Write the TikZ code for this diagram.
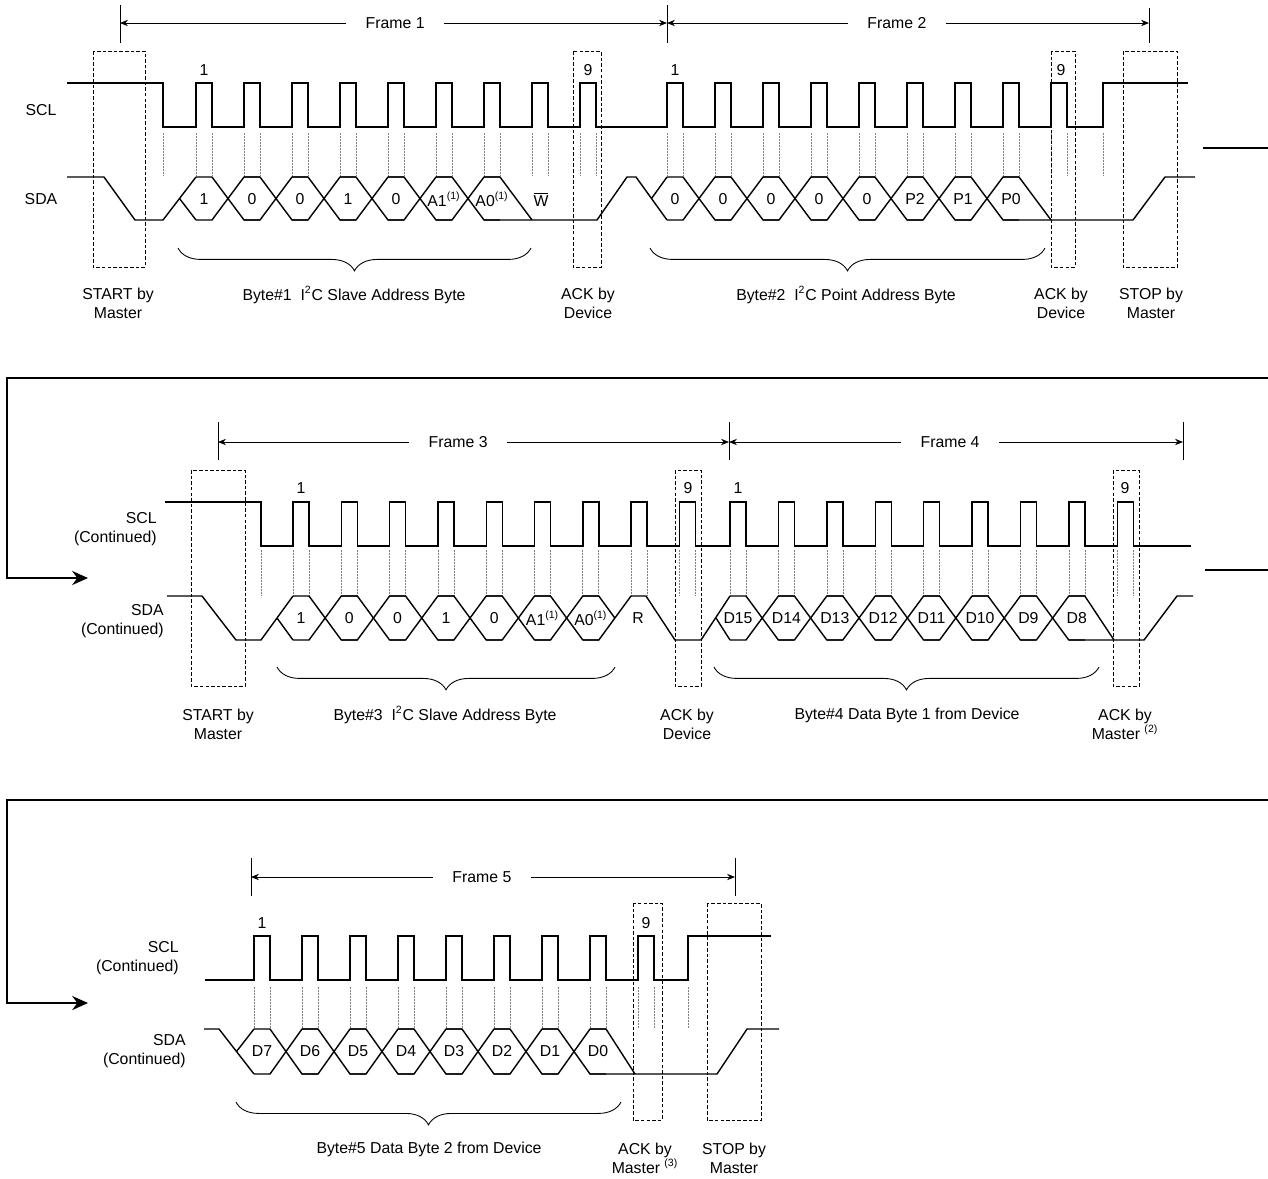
\documentclass[tikz,border=0pt]{standalone}
\usepackage{fontspec}
\setmainfont{Liberation Sans}
\usetikzlibrary{arrows.meta,decorations.pathreplacing}
\tikzstyle{sig} = [line width=0.8pt, line join=miter]
\tikzstyle{guide} = [gray, dash pattern=on 1pt off 0.7pt, line width=0.35pt]
\tikzstyle{window} = [draw, dash pattern=on 2pt off 1.2pt, line width=0.45pt]
\tikzstyle{lbl} = [font=\fontsize{9}{10.8}\selectfont, align=center, inner sep=0pt]
\tikzstyle{framelbl} = [lbl, fill=white, inner xsep=11pt, inner ysep=2pt]
\tikzstyle{grp} = [decorate, decoration={brace, mirror, amplitude=13pt}, line width=0.5pt]
\tikzstyle{link} = [line width=1.2pt]

\begin{document}
\begin{tikzpicture}[x=0.02cm, y=-0.02cm, >={Stealth[length=4.5pt,width=3.6pt]}]
    \useasboundingbox (0,0) rectangle (1268,1178);

    % 第一行: Frame 1, Frame 2
    \node[lbl] (scl1) at (41,110) {SCL};
    \node[lbl] (sda1) at (41,199) {SDA};
    \coordinate (f1a) at (120,23);
    \coordinate (f1b) at (667,23);
    \coordinate (f2b) at (1149,23);
    \draw[line width=0.5pt] (120,5) -- (120,43) (667,5) -- (667,43) (1149,8) -- (1149,43);
    \draw[<->, line width=0.5pt] (f1a) -- node[framelbl, pos=0.503] (fr1) {Frame 1} (f1b);
    \draw[<->, line width=0.5pt] (f1b) -- node[framelbl, pos=0.477] (fr2) {Frame 2} (f2b);

    \draw[sig] (67,83) -- (163,83) -- (163,127)
        foreach \x in {196,244,...,580} { -- (\x,127) -- ++(0,-44) -- ++(16,0) -- ++(0,44) }
        foreach \x in {667,715,...,1051} { -- (\x,127) -- ++(0,-44) -- ++(16,0) -- ++(0,44) }
        -- (1103,127) -- (1103,83) -- (1188,83);
    \foreach \x in {196,244,...,580} \draw[guide] (\x,133) -- (\x,175) ({\x+16},133) -- ({\x+16},175);
    \foreach \x in {667,715,...,1051} \draw[guide] (\x,133) -- (\x,175) ({\x+16},133) -- ({\x+16},175);
    \draw[guide] (163,133) -- (163,175) (1103,133) -- (1103,175);

    \draw[sig] (67,177) -- (104,177) -- (135,220) -- (163,220) -- (196,177);
    \draw[sig] (179.5,198.5) -- (196,220);
    \foreach \x in {196,244,...,436} {
        \draw[sig] (\x,177) -- ++(16,0) -- ++(32,43) -- ++(16,0);
        \draw[sig] (\x,220) -- ++(16,0) -- ++(32,-43) -- ++(16,0);
    }
    \draw[sig] (484,177) -- (500,177) -- (532,220);
    \draw[sig] (484,220) -- (597,220) -- (627,177) -- (636,177) -- (667,220);
    \draw[sig] (651.5,198.5) -- (667,177);
    \foreach \x in {667,715,...,955} {
        \draw[sig] (\x,177) -- ++(16,0) -- ++(32,43) -- ++(16,0);
        \draw[sig] (\x,220) -- ++(16,0) -- ++(32,-43) -- ++(16,0);
    }
    \draw[sig] (1003,177) -- (1019,177) -- (1051,220);
    \draw[sig] (1003,220) -- (1133,220) -- (1165,177) -- (1195,177);

    \foreach \t [count=\i from 0] in {1,0,0,1,0,A1\textsuperscript{(1)},A0\textsuperscript{(1)}}
        \node[lbl] (a\i) at ({204+48*\i},199) {\t};
    \node[lbl] (wr) at (541,199) {$\overline{\mbox{W}}$};
    \foreach \t [count=\i from 0] in {0,0,0,0,0,P2,P1,P0}
        \node[lbl] (p\i) at ({675+48*\i},199) {\t};
    \node[lbl] (c11) at (204,70) {1};
    \node[lbl] (c19) at (588,70) {9};
    \node[lbl] (c21) at (675,70) {1};
    \node[lbl] (c29) at (1061,70) {9};

    \draw[window] (93,51) rectangle (145,267);
    \draw[window] (573,51) rectangle (601,267);
    \draw[window] (1051,51) rectangle (1075,267);
    \draw[window] (1123,51) rectangle (1177,267);
    \draw[grp] (178,248) -- (531,248);
    \draw[grp] (650,248) -- (1045,248);
    \node[lbl] (st1) at (118,303) {START by\\Master};
    \node[lbl] (by1) at (354,295) {Byte\#1\ \ I\textsuperscript{2}C Slave Address Byte};
    \node[lbl] (ack1) at (588,303) {ACK by\\Device};
    \node[lbl] (by2) at (846,295) {Byte\#2\ \ I\textsuperscript{2}C Point Address Byte};
    \node[lbl] (ack2) at (1061,303) {ACK by\\Device};
    \node[lbl] (sp1) at (1151,303) {STOP by\\Master};

    % 转行连线 1
    \coordinate (outA) at (1203,148);
    \coordinate (edgeA) at (1268,148);
    \coordinate (inA) at (1268,378);
    \coordinate (arrA) at (88,578);
    \draw[link] (outA) -- (edgeA);
    \draw[link, -{Stealth[length=9pt,width=8pt]}] (inA) -| (7,578) -- (arrA);

    % 第二行: Frame 3, Frame 4
    \node[lbl, align=right, anchor=east] (scl2) at (157,529) {SCL\\(Continued)};
    \node[lbl, align=right, anchor=east] (sda2) at (164,621) {SDA\\(Continued)};
    \coordinate (f3a) at (218,442);
    \coordinate (f3b) at (729,442);
    \coordinate (f4b) at (1183,442);
    \draw[line width=0.5pt] (218,422) -- (218,460) (729,422) -- (729,460) (1183,422) -- (1183,460);
    \draw[<->, line width=0.5pt] (f3a) -- node[framelbl, pos=0.47] (fr3) {Frame 3} (f3b);
    \draw[<->, line width=0.5pt] (f3b) -- node[framelbl, pos=0.487] (fr4) {Frame 4} (f4b);

    \draw[sig] (165,502) -- (261,502) -- (261,546)
        foreach \k in {0,...,8} { -- ({293+48.3*\k},546) -- ++(0,-44) -- ++(16,0) -- ++(0,44) }
        foreach \k in {0,...,8} { -- ({730+48.4*\k},546) -- ++(0,-44) -- ++(16,0) -- ++(0,44) }
        -- (1191,546);
    \foreach \k in {0,...,8} \draw[guide] ({293+48.3*\k},550) -- ++(0,45) ({309+48.3*\k},550) -- ++(0,45);
    \foreach \k in {0,...,8} \draw[guide] ({730+48.4*\k},550) -- ++(0,45) ({746+48.4*\k},550) -- ++(0,45);
    \draw[guide] (261,550) -- (261,595);

    \draw[sig] (167,596) -- (202,596) -- (236,640) -- (261,640) -- (293,596);
    \draw[sig] (277,618) -- (293,640);
    \foreach \k in {0,...,5} {
        \draw[sig] ({293+48.3*\k},596) -- ++(16,0) -- ++(32.3,44) -- ++(16,0);
        \draw[sig] ({293+48.3*\k},640) -- ++(16,0) -- ++(32.3,-44) -- ++(16,0);
    }
    \draw[sig] (582.8,596) -- ++(16,0) -- ++(16,22);
    \draw[sig] (582.8,640) -- ++(16,0) -- (631,596) -- (646,596) -- (675,640) -- (701,640) -- (730,596);
    \draw[sig] (716,618) -- (730,640);
    \foreach \k in {0,...,6} {
        \draw[sig] ({730+48.4*\k},596) -- ++(16,0) -- ++(32.4,44) -- ++(16,0);
        \draw[sig] ({730+48.4*\k},640) -- ++(16,0) -- ++(32.4,-44) -- ++(16,0);
    }
    \draw[sig] (1068.8,596) -- ++(16,0) -- (1114,640);
    \draw[sig] (1068.8,640) -- (1144,640) -- (1177,596) -- (1193,596);

    \foreach \t [count=\i from 0] in {1,0,0,1,0,A1\textsuperscript{(1)},A0\textsuperscript{(1)}}
        \node[lbl] (b\i) at ({301+48.3*\i},618) {\t};
    \node[lbl] (rd) at (638,618) {R};
    \foreach \t [count=\i from 0] in {D15,D14,D13,D12,D11,D10,D9,D8}
        \node[lbl] (d\i) at ({738+48.4*\i},618) {\t};
    \node[lbl] (c31) at (301,488) {1};
    \node[lbl] (c39) at (688,488) {9};
    \node[lbl] (c41) at (738,488) {1};
    \node[lbl] (c49) at (1125,488) {9};

    \draw[window] (191,470) rectangle (245,686);
    \draw[window] (675,470) rectangle (701,686);
    \draw[window] (1113,470) rectangle (1139,686);
    \draw[grp] (277,667) -- (615,667);
    \draw[grp] (714,667) -- (1099,667);
    \node[lbl] (st2) at (218,724) {START by\\Master};
    \node[lbl] (by3) at (445,715) {Byte\#3\ \ I\textsuperscript{2}C Slave Address Byte};
    \node[lbl] (ack3) at (687,724) {ACK by\\Device};
    \node[lbl] (by4) at (907,715) {Byte\#4 Data Byte 1 from Device};
    \node[lbl] (ack4) at (1125,724) {ACK by\\Master \textsuperscript{(2)}};

    % 转行连线 2
    \coordinate (outB) at (1205,570);
    \coordinate (edgeB) at (1268,570);
    \coordinate (inB) at (1268,800);
    \coordinate (arrB) at (88,1003);
    \draw[link] (outB) -- (edgeB);
    \draw[link, -{Stealth[length=9pt,width=8pt]}] (inB) -| (7,1003) -- (arrB);

    % 第三行: Frame 5
    \node[lbl, align=right, anchor=east] (scl3) at (179,958) {SCL\\(Continued)};
    \node[lbl, align=right, anchor=east] (sda3) at (186,1051) {SDA\\(Continued)};
    \coordinate (f5a) at (251,877);
    \coordinate (f5b) at (735,877);
    \draw[line width=0.5pt] (251,858) -- (251,896) (735,858) -- (735,896);
    \draw[<->, line width=0.5pt] (f5a) -- node[framelbl, pos=0.477] (fr5) {Frame 5} (f5b);

    \draw[sig] (205,980)
        foreach \x in {254,302,...,638} { -- (\x,980) -- ++(0,-44) -- ++(16,0) -- ++(0,44) }
        -- (688,980) -- (688,936) -- (771,936);
    \foreach \x in {254,302,...,638} \draw[guide] (\x,987) -- (\x,1028) ({\x+16},987) -- ({\x+16},1028);
    \draw[guide] (688,987) -- (688,1028);

    \draw[sig] (204,1029) -- (219,1029) -- (254,1074);
    \draw[sig] (236.5,1051.5) -- (254,1029);
    \foreach \x in {254,302,...,542} {
        \draw[sig] (\x,1029) -- ++(16,0) -- ++(32,45) -- ++(16,0);
        \draw[sig] (\x,1074) -- ++(16,0) -- ++(32,-45) -- ++(16,0);
    }
    \draw[sig] (590,1029) -- (606,1029) -- (635,1074);
    \draw[sig] (590,1074) -- (717,1074) -- (747,1029) -- (779,1029);

    \foreach \t [count=\i from 0] in {D7,D6,D5,D4,D3,D2,D1,D0}
        \node[lbl] (e\i) at ({262+48*\i},1051) {\t};
    \node[lbl] (c51) at (262,923) {1};
    \node[lbl] (c59) at (646,923) {9};

    \draw[window] (633,903) rectangle (662,1120);
    \draw[window] (707,903) rectangle (761,1120);
    \draw[grp] (236,1102) -- (621,1102);
    \node[lbl] (by5) at (429,1149) {Byte\#5 Data Byte 2 from Device};
    \node[lbl] (ack5) at (645,1158) {ACK by\\Master \textsuperscript{(3)}};
    \node[lbl] (sp2) at (734,1158) {STOP by\\Master};
\end{tikzpicture}
\end{document}
